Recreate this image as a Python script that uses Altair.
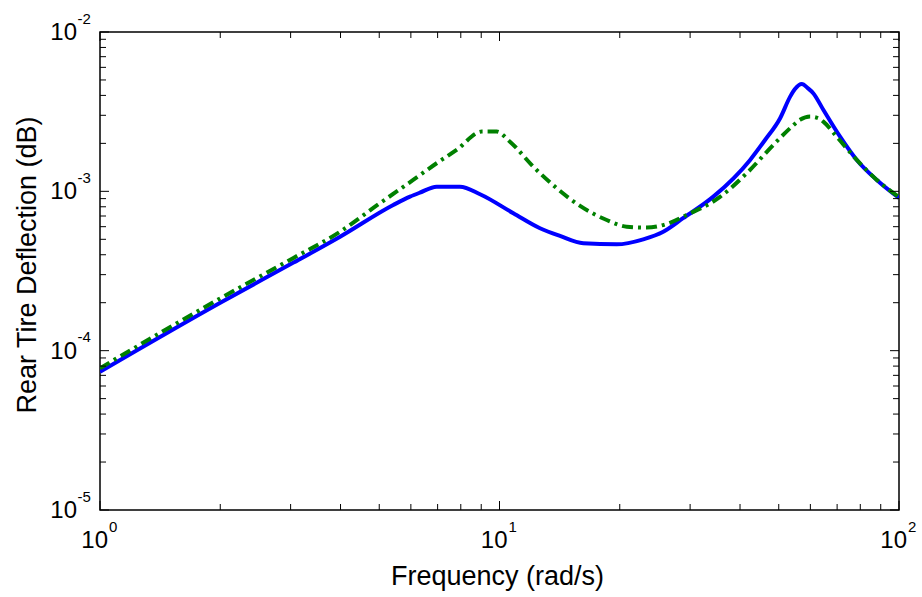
import altair as alt
import pandas as pd

# Frequency response magnitudes (frequency in rad/s)
blue_freq = [1.0, 2.0, 3.05, 3.99, 5.42, 5.97, 6.32, 6.96, 7.96, 8.94, 10.83, 12.63,
             14.17, 16.21, 19.65, 22.9, 25.7, 28.8, 34.3, 42.4, 46.2, 50.4,
             53.4, 54.9, 57.1, 59.2, 61.0, 64.7, 71.2, 78.4, 88.0, 100.0]
blue_mag = [7.38e-5, 2.0e-4, 3.57e-4, 5.19e-4, 8.21e-4, 9.26e-4, 9.81e-4, 1.07e-3,
            1.07e-3, 9.59e-4, 7.29e-4, 5.87e-4, 5.25e-4, 4.72e-4, 4.65e-4,
            5.0e-4, 5.58e-4, 6.78e-4, 9.26e-4, 1.575e-3, 2.10e-3, 2.877e-3, 3.93e-3,
            4.39e-3, 4.72e-3, 4.43e-3, 4.13e-3, 3.24e-3, 2.205e-3, 1.575e-3, 1.179e-3,
            9.1e-4]

green_freq = [1.0, 2.0, 3.05, 3.99, 5.02, 6.08, 6.96, 7.81, 9.03, 9.84, 10.62, 12.15,
              13.91, 15.91, 18.55, 20.82, 23.36, 26.21, 29.42, 35.64, 41.57, 48.47,
              53.37, 56.5, 59.87, 62.8, 64.65, 69.82, 78.4, 88.0, 100.0]
green_mag = [7.76e-5, 2.13e-4, 3.82e-4, 5.58e-4, 8.42e-4, 1.179e-3, 1.501e-3, 1.819e-3,
             2.37e-3, 2.37e-3, 2.05e-3, 1.429e-3, 1.046e-3, 8.10e-4, 6.61e-4, 6.00e-4,
             5.92e-4, 6.24e-4, 7.11e-4, 9.22e-4, 1.299e-3, 1.956e-3, 2.489e-3, 2.81e-3,
             2.944e-3, 2.877e-3, 2.738e-3, 2.205e-3, 1.575e-3, 1.179e-3, 9.2e-4]

# Tick positions and decade label exponents
x_major = [1, 10, 100]
x_minor = [k * m for m in (1, 10) for k in range(2, 10)]
y_major = [1e-5, 1e-4, 1e-3, 1e-2]
y_minor = [k * m for m in (1e-5, 1e-4, 1e-3) for k in range(2, 10)]
x_exp = ["0", "1", "2"]
y_exp = ["-5", "-4", "-3", "-2"]

x_title = "Frequency (rad/s)"
y_title = "Rear Tire Deflection (dB)"

W, H = 799, 478
FONT = "Liberation Sans"
MAJ, MIN = 9, 6

xs = alt.Scale(type="log", domain=[1, 100])
ys = alt.Scale(type="log", domain=[1e-5, 1e-2])

df_blue = pd.DataFrame({"f": blue_freq, "v": blue_mag})
df_green = pd.DataFrame({"f": green_freq, "v": green_mag})

blue = alt.Chart(df_blue).mark_line(
    color="#0000ff", strokeWidth=4, interpolate="monotone", clip=True
).encode(
    x=alt.X("f:Q", scale=xs, axis=None),
    y=alt.Y("v:Q", scale=ys, axis=None),
)

green = alt.Chart(df_green).mark_line(
    color="#008000", strokeWidth=4, interpolate="monotone", clip=True,
    strokeDash=[11, 5, 3, 5], strokeCap="butt"
).encode(
    x=alt.X("f:Q", scale=xs, axis=None),
    y=alt.Y("v:Q", scale=ys, axis=None),
)


def x_ticks(vals, length):
    d = pd.DataFrame({"t": vals})
    base = alt.Chart(d).mark_rule(color="black", strokeWidth=1)
    enc = dict(x=alt.X("t:Q", scale=xs, axis=None))
    bottom = base.encode(**enc, y=alt.value(H), y2=alt.value(H - length))
    top = base.encode(**enc, y=alt.value(0), y2=alt.value(length))
    return [bottom, top]


def y_ticks(vals, length):
    d = pd.DataFrame({"t": vals})
    base = alt.Chart(d).mark_rule(color="black", strokeWidth=1)
    enc = dict(y=alt.Y("t:Q", scale=ys, axis=None))
    left = base.encode(**enc, x=alt.value(0), x2=alt.value(length))
    right = base.encode(**enc, x=alt.value(W), x2=alt.value(W - length))
    return [left, right]


ticks = x_ticks(x_major, MAJ) + x_ticks(x_minor, MIN) + y_ticks(y_major, MAJ) + y_ticks(y_minor, MIN)

# Decade labels drawn as "10" with a raised exponent
df_xl = pd.DataFrame({"t": x_major, "e": x_exp})
x_base = alt.Chart(df_xl).mark_text(
    text="10", font=FONT, fontSize=24, align="right", baseline="alphabetic", dx=8
).encode(x=alt.X("t:Q", scale=xs, axis=None), y=alt.value(H + 38))
x_sup = alt.Chart(df_xl).mark_text(
    font=FONT, fontSize=15, align="left", baseline="alphabetic", dx=9
).encode(x=alt.X("t:Q", scale=xs, axis=None), y=alt.value(H + 21.5), text="e:N")

df_yl = pd.DataFrame({"t": y_major, "e": y_exp})
y_base = alt.Chart(df_yl).mark_text(
    text="10", font=FONT, fontSize=24, align="right", baseline="alphabetic", dy=8
).encode(y=alt.Y("t:Q", scale=ys, axis=None), x=alt.value(-23))
y_sup = alt.Chart(df_yl).mark_text(
    font=FONT, fontSize=15, align="left", baseline="alphabetic", dy=-8.5
).encode(y=alt.Y("t:Q", scale=ys, axis=None), x=alt.value(-22.5), text="e:N")

xt = alt.Chart(pd.DataFrame({"s": [x_title]})).mark_text(
    font=FONT, fontSize=27, align="center", baseline="alphabetic"
).encode(text="s:N", x=alt.value(W / 2 - 2), y=alt.value(H + 75))

yt = alt.Chart(pd.DataFrame({"s": [y_title]})).mark_text(
    font=FONT, fontSize=27, align="center", baseline="alphabetic", angle=270
).encode(text="s:N", x=alt.value(-64), y=alt.value(H / 2 - 6))

chart = alt.layer(
    blue, green, *ticks, x_base, x_sup, y_base, y_sup, xt, yt
).properties(
    width=W, height=H,
    padding={"left": 100, "top": 32, "right": 23, "bottom": 87},
    autosize=alt.AutoSizeParams(type="none"),
    background="white",
).configure_view(stroke="black", strokeWidth=1.5)

chart.save("out.html", embed_options={"renderer": "svg", "actions": False})
